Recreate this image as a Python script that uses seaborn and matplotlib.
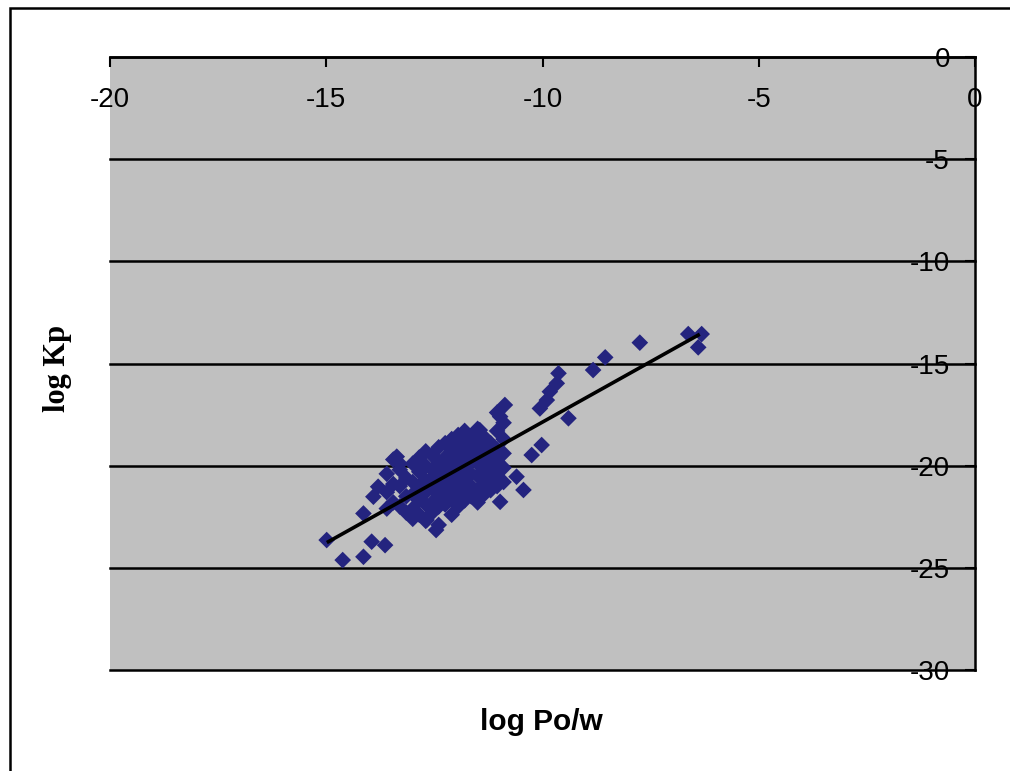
import numpy as np
import pandas as pd
import matplotlib
matplotlib.use("Agg")
import matplotlib.pyplot as plt
import seaborn as sns
from matplotlib.patches import Rectangle

# ---------------------------------------------------------
# data (log Po/w, log Kp)
# ---------------------------------------------------------
outer_x = [-14.99, -14.62, -14.14, -13.95, -13.64, -12.46, -7.75, -6.63, -6.32, -6.40,
           -8.55, -8.83, -9.63, -9.67, -9.83, -9.90, -10.06, -9.40, -10.02, -10.25,
           -10.44, -10.60, -10.98, -10.87, -10.98, -11.45, -13.37, -13.80, -13.91, -14.14,
           -12.68]
outer_y = [-23.64, -24.62, -24.46, -23.72, -23.89, -23.15, -13.98, -13.56, -13.56, -14.21,
           -14.70, -15.32, -15.48, -15.97, -16.38, -16.79, -17.20, -17.68, -18.99, -19.48,
           -21.19, -20.54, -21.77, -17.03, -17.60, -18.26, -19.56, -21.03, -21.52, -22.34,
           -22.66]

cluster_x = ([-13.6] * 3 + [-13.45] * 3 + [-13.3] * 4 + [-13.15] * 3 + [-13.0] * 5
             + [-12.85] * 5 + [-12.7] * 6 + [-12.55] * 6 + [-12.4] * 7 + [-12.25] * 6
             + [-12.1] * 7 + [-11.95] * 7 + [-11.8] * 7 + [-11.65] * 6 + [-11.5] * 7
             + [-11.35] * 6 + [-11.2] * 5 + [-11.05] * 6 + [-10.9] * 5)
cluster_y = [-21.3, -20.4, -22.1,
             -19.7, -20.9, -21.8,
             -20.2, -21.0, -22.0, -19.9,
             -20.6, -21.5, -22.3,
             -19.9, -20.8, -21.4, -22.1, -22.6,
             -19.6, -20.3, -21.0, -21.7, -22.4,
             -19.3, -20.0, -20.7, -21.3, -21.9, -22.7,
             -19.5, -20.2, -20.6, -21.1, -21.8, -22.3,
             -19.1, -19.8, -20.4, -20.9, -21.5, -22.0, -22.9,
             -18.9, -19.6, -20.1, -20.7, -21.2, -21.9,
             -18.7, -19.3, -19.9, -20.5, -21.0, -21.6, -22.4,
             -18.5, -19.1, -19.7, -20.3, -20.8, -21.4, -22.0,
             -18.3, -18.9, -19.5, -20.0, -20.6, -21.2, -21.7,
             -18.6, -19.2, -19.8, -20.4, -21.0, -21.5,
             -18.2, -18.8, -19.4, -19.9, -20.5, -21.2, -21.8,
             -18.6, -19.1, -19.7, -20.2, -20.9, -21.4,
             -18.9, -19.5, -20.0, -20.6, -21.2,
             -17.4, -18.3, -19.2, -19.8, -20.4, -21.0,
             -17.9, -18.7, -19.4, -20.1, -20.8]

# trend line end points
trend_x = [-14.95, -6.40]
trend_y = [-23.72, -13.61]

x_ticks = [-20, -15, -10, -5, 0]
y_ticks = [0, -5, -10, -15, -20, -25, -30]

df = pd.DataFrame({"x": outer_x + cluster_x, "y": outer_y + cluster_y})
trend = pd.DataFrame({"x": trend_x, "y": trend_y})

plt.rcParams['font.family'] = ['Liberation Sans', 'DejaVu Sans']
plt.rcParams['axes.unicode_minus'] = False

fig = plt.figure(figsize=(10.10, 7.71), dpi=100)
ax = fig.add_axes([110 / 1010, 1 - 670 / 771, 865 / 1010, 613 / 771])
ax.set_facecolor("#c0c0c0")

sns.scatterplot(data=df, x="x", y="y", ax=ax, marker="D", s=72,
                color="#24247f", edgecolor="none", zorder=3)
sns.lineplot(data=trend, x="x", y="y", ax=ax, color="black", lw=2.6, zorder=4)

ax.set_xlim(-20, 0)
ax.set_ylim(-30, 0)
ax.set_xticks(x_ticks)
ax.set_yticks(y_ticks)

# horizontal gridlines like Excel
for yv in y_ticks:
    ax.axhline(yv, color="black", lw=1.8, zorder=2, clip_on=False)

for side in ["left", "bottom"]:
    ax.spines[side].set_visible(False)
for side in ["top", "right"]:
    ax.spines[side].set_color("black")
    ax.spines[side].set_linewidth(1.8)

ax.xaxis.tick_top()
ax.yaxis.tick_right()
ax.tick_params(axis="x", direction="in", length=7, width=1.5, pad=-31, labelsize=20)
ax.tick_params(axis="y", direction="in", length=7, width=1.5, pad=-18, labelsize=20)
for lab in ax.get_xticklabels():
    lab.set_va("center")
for lab in ax.get_yticklabels():
    lab.set_ha("right")

ax.set_xlabel("")
ax.set_ylabel("")

fig.text(541 / 1010, 1 - 722 / 771, "log Po/w", ha="center", va="center",
         fontsize=21.5, fontweight="bold")
fig.text(57 / 1010, 1 - 368 / 771, "log Kp", ha="center", va="center",
         rotation=90, fontsize=22, fontweight="bold",
         family=['Liberation Serif', 'DejaVu Serif'])

# chart area frame
fig.patches.append(Rectangle((10 / 1010, -0.05), 1.1, 1.05 - 8 / 771,
                             transform=fig.transFigure, fill=False,
                             edgecolor="black", lw=1.8))

fig.savefig("out.png", dpi=100)
